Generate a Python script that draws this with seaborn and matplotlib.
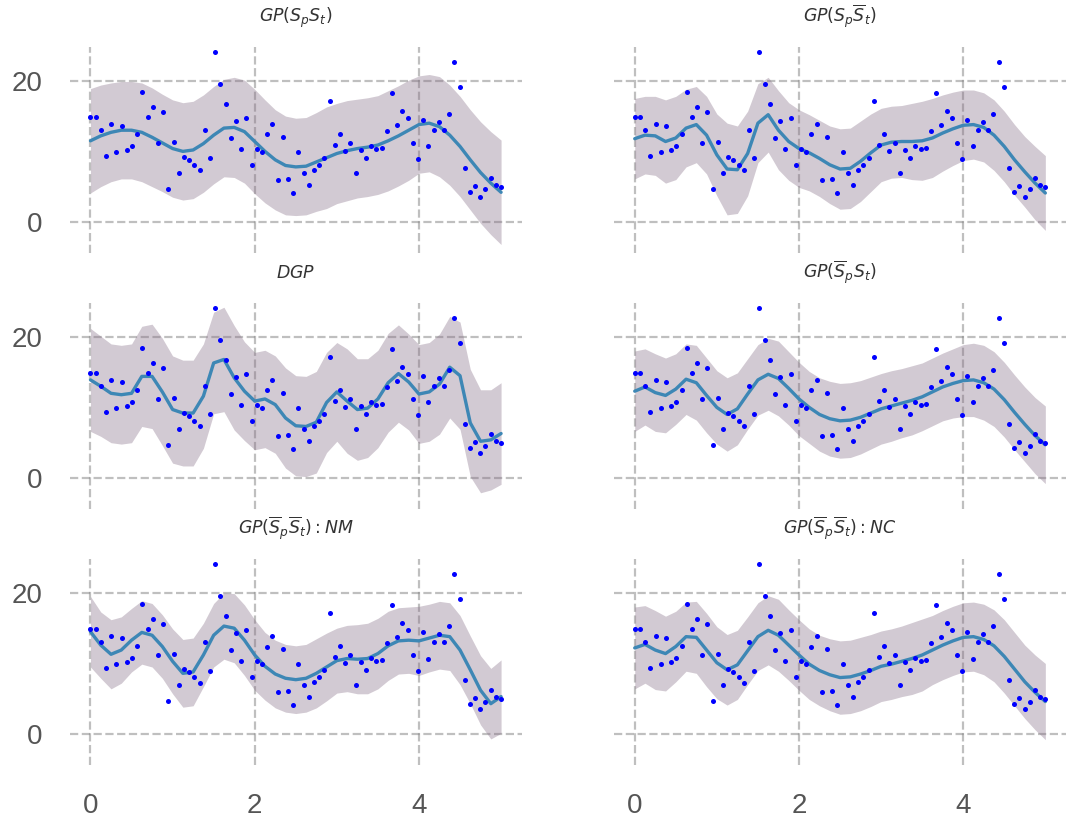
import numpy as np
import pandas as pd
import matplotlib
matplotlib.use("Agg")
import matplotlib.pyplot as plt
import seaborn as sns

# ---- observed data (same in every panel) ----
obs_x = np.linspace(0, 5, 80)
obs_y = [14.9, 14.9, 13.1, 9.3, 13.9, 9.9, 13.6, 10.2, 10.8, 12.5,
         18.4, 14.9, 16.3, 11.2, 15.6, 4.7, 11.3, 6.9, 9.2, 8.8,
         8.1, 7.3, 13.0, 9.0, 24.1, 19.5, 16.7, 11.9, 14.3, 10.4,
         14.8, 8.1, 10.4, 9.9, 12.4, 13.9, 6.0, 12.1, 6.1, 4.1,
         9.9, 6.9, 5.2, 7.4, 8.1, 9.1, 17.1, 10.9, 12.5, 10.0,
         11.2, 7.0, 10.2, 9.1, 10.8, 10.4, 10.5, 12.9, 18.3, 13.8,
         15.7, 14.7, 11.2, 8.9, 14.4, 10.7, 13.0, 14.2, 13.1, 15.3,
         22.7, 19.1, 7.6, 4.2, 5.1, 3.6, 4.6, 6.2, 5.2, 5.0]

# ---- posterior means and band half-widths (grid of x) ----
pred_x = np.linspace(0, 5, 41)

titles = [r'$GP(S_pS_t)$', r'$GP(S_p\overline{S}_t)$', r'$DGP$',
          r'$GP(\overline{S}_pS_t)$', r'$GP(\overline{S}_p\overline{S}_t): NM$',
          r'$GP(\overline{S}_p\overline{S}_t): NC$']

mean_1 = [11.5, 12.2, 12.7, 13.0, 13.0, 12.7, 12.0, 11.2, 10.4, 10.0,
          10.2, 11.1, 12.3, 13.3, 13.4, 12.8, 11.4, 10.0, 8.8, 8.0,
          7.8, 7.9, 8.5, 9.1, 9.7, 10.1, 10.4, 10.6, 10.9, 11.5,
          12.2, 13.0, 13.8, 14.0, 13.5, 12.3, 10.7, 8.8, 7.0, 5.5, 4.2]
half_1 = [7.4, 7.2, 7.0, 6.9, 6.9, 7.0, 7.0, 6.9, 6.9, 6.9,
          6.9, 6.9, 6.9, 6.9, 7.1, 7.3, 7.4, 7.3, 7.1, 7.0,
          6.9, 6.9, 7.0, 7.2, 7.1, 7.1, 7.0, 7.0, 7.0, 7.1,
          7.1, 7.1, 6.9, 6.9, 7.1, 7.1, 7.1, 7.1, 7.2, 7.3, 7.4]

mean_2 = [11.8, 12.3, 12.2, 11.4, 11.9, 13.3, 13.8, 12.3, 9.5, 7.5,
          7.4, 9.7, 14.0, 15.2, 13.0, 11.4, 10.4, 9.8, 9.0, 8.1,
          7.5, 7.6, 8.6, 9.8, 10.9, 11.3, 11.4, 11.4, 11.5, 11.9,
          12.6, 13.2, 13.7, 13.8, 13.4, 12.3, 10.7, 8.8, 7.1, 5.5, 4.1]
half_2 = [5.7, 5.5, 5.6, 5.9, 5.9, 5.5, 5.4, 5.5, 5.8, 6.5,
          6.2, 6.0, 5.6, 5.3, 5.6, 5.5, 5.5, 5.4, 5.4, 5.5,
          5.7, 5.7, 5.7, 5.5, 5.2, 5.1, 5.1, 5.4, 5.6, 5.6,
          5.4, 5.2, 5.0, 4.9, 4.9, 5.0, 5.0, 5.0, 5.0, 5.2, 5.3]

mean_3 = [13.9, 13.0, 12.0, 11.8, 12.0, 14.4, 14.4, 12.2, 9.7, 9.2,
          9.2, 11.6, 16.3, 16.8, 14.2, 12.3, 10.9, 11.2, 10.4, 8.5,
          7.4, 7.3, 7.9, 10.7, 12.2, 10.9, 9.7, 9.9, 11.2, 13.5,
          14.8, 13.6, 11.9, 12.2, 13.3, 15.7, 14.5, 7.8, 5.2, 5.4, 6.3]
half_3 = [7.3, 7.1, 7.0, 7.0, 7.0, 7.1, 7.4, 7.6, 7.6, 7.5,
          7.5, 7.4, 7.2, 7.4, 7.4, 7.0, 6.9, 6.9, 6.9, 7.1,
          7.1, 7.1, 7.2, 7.1, 7.0, 7.4, 7.2, 7.0, 6.9, 7.0,
          6.9, 6.8, 7.0, 7.0, 7.1, 7.2, 7.6, 7.6, 7.3, 7.1, 7.2]

mean_4 = [12.3, 12.9, 12.1, 11.7, 12.6, 14.0, 13.5, 11.7, 10.0, 9.0,
          9.8, 11.9, 13.9, 14.7, 14.1, 12.7, 11.2, 10.0, 9.0, 8.4,
          8.1, 8.2, 8.6, 9.2, 9.8, 10.2, 10.6, 11.0, 11.5, 12.2,
          12.9, 13.4, 13.8, 13.9, 13.5, 12.6, 11.1, 9.3, 7.6, 6.0, 4.7]
half_4 = [5.7, 5.4, 5.5, 5.3, 5.0, 5.0, 5.3, 5.3, 5.2, 5.2,
          5.1, 5.0, 5.0, 5.1, 5.3, 5.2, 5.2, 5.1, 5.2, 5.3,
          5.3, 5.3, 5.2, 5.1, 5.0, 5.0, 4.9, 4.9, 4.8, 4.8,
          4.8, 4.9, 5.1, 5.2, 5.3, 5.3, 5.3, 5.3, 5.3, 5.4, 5.5]

mean_5 = [14.5, 12.6, 11.3, 11.9, 13.3, 14.4, 14.0, 12.4, 10.3, 8.6,
          8.8, 11.2, 14.0, 15.3, 15.0, 13.3, 11.2, 9.6, 8.5, 7.9,
          7.7, 7.9, 8.6, 9.5, 10.4, 10.7, 10.6, 10.7, 11.4, 12.5,
          13.2, 13.3, 13.2, 13.6, 14.0, 13.8, 11.9, 9.1, 6.2, 4.3, 5.3]
half_5 = [5.0, 4.7, 4.9, 4.7, 4.5, 4.5, 4.5, 4.5, 4.6, 4.8,
          4.8, 4.5, 4.5, 4.7, 4.9, 5.0, 5.0, 4.8, 4.8, 4.8,
          4.8, 4.8, 4.9, 4.8, 4.6, 4.7, 4.9, 5.0, 5.0, 4.9,
          4.7, 4.7, 4.9, 4.8, 4.8, 4.8, 4.9, 4.8, 4.9, 5.0, 5.2]

mean_6 = [12.2, 12.7, 11.9, 11.4, 12.4, 13.8, 13.7, 11.9, 10.1, 9.1,
          9.8, 11.8, 13.8, 14.7, 14.0, 12.6, 11.2, 9.9, 9.0, 8.4,
          8.0, 8.1, 8.5, 9.0, 9.6, 9.9, 10.3, 10.7, 11.2, 11.9,
          12.6, 13.2, 13.7, 13.8, 13.4, 12.5, 11.0, 9.2, 7.4, 5.9, 4.6]
half_6 = [5.8, 5.5, 5.6, 5.3, 5.0, 4.9, 5.1, 5.2, 5.1, 5.0,
          4.9, 4.8, 4.8, 4.9, 5.1, 5.0, 5.0, 5.0, 5.0, 5.1,
          5.2, 5.2, 5.2, 5.1, 5.0, 5.0, 5.0, 5.1, 5.1, 4.9,
          4.9, 4.9, 4.9, 4.9, 5.0, 5.1, 5.2, 5.2, 5.2, 5.3, 5.4]

means = [mean_1, mean_2, mean_3, mean_4, mean_5, mean_6]
halves = [half_1, half_2, half_3, half_4, half_5, half_6]

x_ticks = [0, 2, 4]
y_ticks = [0, 20]

# ---- styling ----
sns.set_theme(style="white")
plt.rcParams['font.family'] = ['Liberation Sans', 'DejaVu Sans']
plt.rcParams['mathtext.fontset'] = 'dejavusans'

LINE_COLOR = '#3d87b5'
BAND_COLOR = '#877088'
POINT_COLOR = '#0000ff'

fig, axes = plt.subplots(3, 2, figsize=(10.68, 8.17), dpi=100,
                         sharex=True, sharey=True)
fig.subplots_adjust(left=0.0655, right=0.998, top=0.9425, bottom=0.0636,
                    wspace=0.205, hspace=0.243)

obs_df = pd.DataFrame({'x': obs_x, 'y': obs_y})

for ax, title, m, h in zip(axes.flat, titles, means, halves):
    m = np.asarray(m)
    h = np.asarray(h)
    ax.fill_between(pred_x, m - h, m + h, color=BAND_COLOR, alpha=0.37,
                    linewidth=0, zorder=1)
    pred_df = pd.DataFrame({'x': pred_x, 'y': m})
    sns.lineplot(data=pred_df, x='x', y='y', ax=ax, color=LINE_COLOR,
                 linewidth=2.4, zorder=2)
    sns.scatterplot(data=obs_df, x='x', y='y', ax=ax, color=POINT_COLOR,
                    s=13, linewidth=0, zorder=3)
    ax.set_title(title, fontsize=12.5, color='#333333', pad=18)
    ax.set_xlabel('')
    ax.set_ylabel('')
    ax.grid(True, linestyle='--', color='gray', alpha=0.5, linewidth=1.6)
    ax.set_axisbelow(True)
    for s in ax.spines.values():
        s.set_visible(False)
    ax.set_xticks(x_ticks)
    ax.set_yticks(y_ticks)
    ax.tick_params(axis='x', length=0, pad=20, labelsize=20,
                   labelcolor='#555555')
    ax.tick_params(axis='y', length=0, pad=20, labelsize=20,
                   labelcolor='#555555')

axes[0, 0].set_xlim(-0.25, 5.25)
axes[0, 0].set_ylim(-4.4, 24.8)

fig.savefig('out.png', dpi=100)
